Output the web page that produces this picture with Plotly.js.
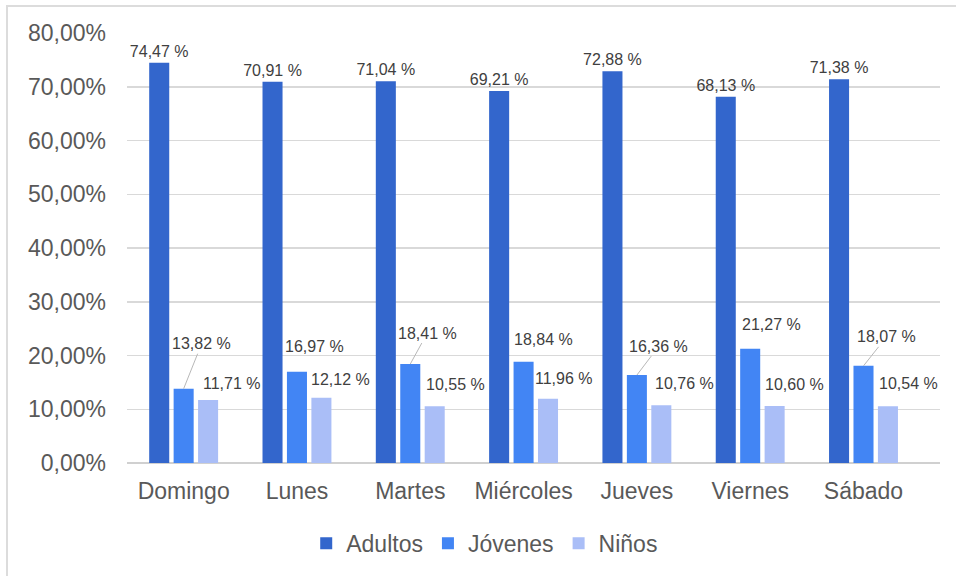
<!DOCTYPE html>
<html>
<head>
<meta charset="utf-8">
<script src="https://cdn.plot.ly/plotly-3.0.1.min.js"></script>
<style>
  html, body { margin: 0; padding: 0; background: #ffffff; }
  #chart { position: absolute; left: 0; top: 0; width: 956px; height: 576px; }
  #frame { position: absolute; left: 6px; top: 5px; width: 960px; height: 600px;
           border-top: 2px solid #dcdcdc; border-left: 2px solid #dcdcdc; pointer-events: none; }
</style>
</head>
<body>
<div id="chart"></div>
<div id="frame"></div>
<script>
// ---- data ----
const categories = ["Domingo", "Lunes", "Martes", "Miércoles", "Jueves", "Viernes", "Sábado"];
const seriesNames = ["Adultos", "Jóvenes", "Niños"];
const adultos = [74.47, 70.91, 71.04, 69.21, 72.88, 68.13, 71.38];
const jovenes = [13.82, 16.97, 18.41, 18.84, 16.36, 21.27, 18.07];
const ninos   = [11.71, 12.12, 10.55, 11.96, 10.76, 10.60, 10.54];
const yTickVals = [0, 10, 20, 30, 40, 50, 60, 70, 80];
const yTickText = ["0,00%", "10,00%", "20,00%", "30,00%", "40,00%", "50,00%", "60,00%", "70,00%", "80,00%"];

// ---- styling / label placement (pixels, relative to bar top) ----
const colors = ["#3366CC", "#4285F4", "#AABEF7"];
const jovOffsets = [[18, -45, true], [18, -25, false], [17, -31, true], [20, -22, false],
                    [22, -29, true], [21, -24, false], [23, -29, true]];
const ninOffsets = [[23, -17], [19, -18], [20, -22], [15, -20], [23, -22], [19, -22], [20, -23]];
const slotPx = 25;

const fmt = v => v.toFixed(2).replace('.', ',') + ' %';
const labelFont = { family: "Liberation Sans, Arial, sans-serif", size: 16, color: "#404040" };
const axisFont = { family: "Liberation Sans, Arial, sans-serif", size: 23, color: "#595959" };

const traces = [
  { type: "bar", name: seriesNames[0], x: categories, y: adultos,
    marker: { color: colors[0] }, text: adultos.map(fmt), textposition: "outside",
    constraintext: "none", textfont: labelFont, cliponaxis: false, hoverinfo: "none" },
  { type: "bar", name: seriesNames[1], x: categories, y: jovenes,
    marker: { color: colors[1] }, hoverinfo: "none" },
  { type: "bar", name: seriesNames[2], x: categories, y: ninos,
    marker: { color: colors[2] }, hoverinfo: "none" }
];

const annotations = [];
categories.forEach((c, i) => {
  const o = jovOffsets[i];
  annotations.push({
    x: c, y: jovenes[i], xref: "x", yref: "y", xshift: 0,
    text: fmt(jovenes[i]), font: labelFont, showarrow: true,
    ax: o[0], ay: o[1], arrowhead: 0, arrowwidth: 1, standoff: 0,
    arrowcolor: o[2] ? "#b8b8b8" : "rgba(0,0,0,0)"
  });
  const n = ninOffsets[i];
  annotations.push({
    x: c, y: ninos[i], xref: "x", yref: "y", xshift: slotPx,
    text: fmt(ninos[i]), font: labelFont, showarrow: true,
    ax: n[0], ay: n[1], arrowhead: 0, arrowwidth: 1, standoff: 0,
    arrowcolor: "rgba(0,0,0,0)"
  });
});

const layout = {
  width: 956, height: 576,
  margin: { l: 127, r: 16, t: 33, b: 112 },
  paper_bgcolor: "#ffffff", plot_bgcolor: "#ffffff",
  barmode: "group", bargap: 0.353, bargroupgap: 0.18,
  font: axisFont,
  xaxis: { type: "category", tickfont: axisFont, showgrid: false, zeroline: false,
           showline: false, ticks: "", ticklabelstandoff: 12, fixedrange: true },
  yaxis: { range: [0, 80], tickmode: "array", tickvals: yTickVals, ticktext: yTickText,
           tickfont: axisFont, gridcolor: "#d9d9d9", gridwidth: 1.5,
           zeroline: true, zerolinecolor: "#d0d0d0", zerolinewidth: 1.5,
           showline: false, ticks: "", ticklabelstandoff: 20, fixedrange: true },
  showlegend: true,
  legend: { orientation: "h", x: 0.44, xanchor: "center", y: -0.184, yanchor: "middle",
            font: axisFont, traceorder: "normal", itemwidth: 30 },
  annotations: annotations
};

Plotly.newPlot("chart", traces, layout, { displayModeBar: false, staticPlot: true });
</script>
</body>
</html>
